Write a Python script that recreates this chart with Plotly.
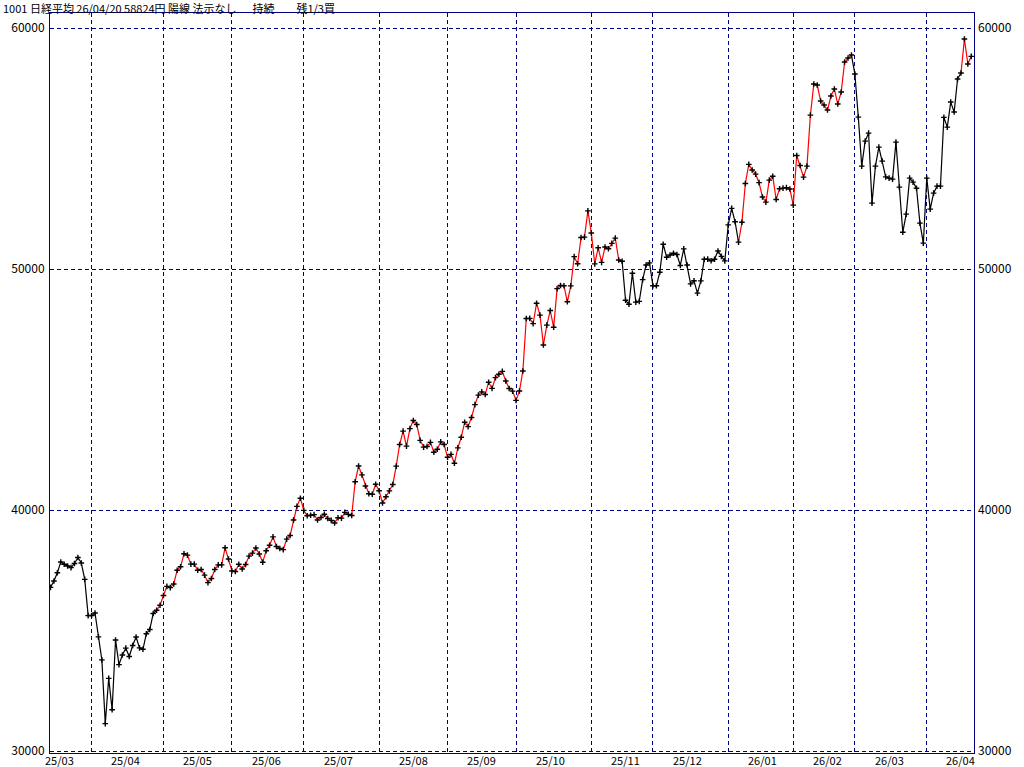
import plotly.graph_objects as go

# ---------------- data ----------------
title_text = "1001 日経平均 26/04/20 58824円 陽線 法示なし\u3000\u00a0\u00a0持続\u3000\u3000残1/3買"

month_labels = ["25/03", "25/04", "25/05", "25/06", "25/07", "25/08", "25/09",
                "25/10", "25/11", "25/12", "26/01", "26/02", "26/03", "26/04"]
# trading days shown in each month
month_days = [12, 21, 20, 21, 22, 20, 20, 22, 18, 22, 19, 18, 21, 14]

close_2503 = [36790, 37053, 37396, 37845, 37751, 37677, 37608, 37780, 38027, 37799, 37120, 35618]
close_2504 = [35624, 35725, 34736, 33781, 31136, 33012, 31714, 34609, 33586, 33982, 34267, 33920,
              34377, 34730, 34280, 34220, 34868, 35039, 35705, 35840, 36045]
close_2505 = [36452, 36831, 36780, 36928, 37503, 37644, 38183, 38128, 37755, 37753, 37498, 37529,
              37299, 36985, 37160, 37532, 37724, 37722, 38432, 37965]
close_2506 = [37470, 37446, 37747, 37554, 37741, 38088, 38211, 38421, 38173, 37834, 38311, 38536,
              38885, 38488, 38403, 38354, 38790, 38942, 39584, 40150, 40487]
close_2507 = [39986, 39762, 39785, 39810, 39587, 39688, 39821, 39646, 39570, 39459, 39678, 39663,
              39901, 39819, 39774, 41171, 41826, 41456, 40998, 40674, 40654, 41069]
close_2508 = [40799, 40290, 40549, 40794, 41059, 41820, 42718, 43274, 42649, 43378, 43714, 43546,
              42888, 42610, 42633, 42807, 42394, 42520, 42828, 42718]
close_2509 = [42188, 42310, 41938, 42580, 43018, 43643, 43459, 43837, 44372, 44768, 44902, 44790,
              45303, 45045, 45493, 45630, 45754, 45354, 45043, 44932]
close_2510 = [44550, 44936, 45769, 47944, 47950, 47734, 48580, 48088, 46847, 47672, 48277, 47582,
              49185, 49316, 49307, 48641, 49299, 50512, 50219, 51307, 51325, 52411]
close_2511 = [51497, 50212, 50883, 50276, 50911, 50842, 51063, 51281, 50376, 50323, 48702, 48537,
              49823, 48625, 48659, 49559, 50167, 50253]
close_2512 = [49303, 49303, 49864, 51028, 50491, 50581, 50655, 50602, 50148, 50836, 50168, 49383,
              49512, 49001, 49507, 50402, 50412, 50344, 50407, 50750, 50526, 50339]
close_2601 = [51832, 52518, 51961, 51117, 51940, 53549, 54341, 54110, 53936, 53583, 52991, 52774,
              53688, 53846, 52885, 53333, 53358, 53376, 53322]
close_2602 = [52650, 54710, 54295, 53812, 54269, 56387, 57675, 57633, 56969, 56803, 56595, 57176,
              57467, 56844, 57342, 58588, 58754, 58879]
close_2603 = [58090, 56304, 54269, 55307, 55639, 52732, 54269, 55058, 54476, 53825, 53771, 53729,
              55266, 53397, 51528, 52276, 53771, 53605, 53350, 51902, 51072]
close_2604 = [53771, 52483, 53148, 53439, 53439, 56290, 55888, 56927, 56512, 57882, 58131, 59543,
              58505, 58824]

# point-index ranges (inclusive) whose connecting line is drawn in red (buy/hold state)
red_runs = [(31, 166), (201, 234), (266, 269)]

y_ticks = [30000, 40000, 50000, 60000]

# ---------------- build ----------------
close = (close_2503 + close_2504 + close_2505 + close_2506 + close_2507 + close_2508 +
         close_2509 + close_2510 + close_2511 + close_2512 + close_2601 + close_2602 +
         close_2603 + close_2604)
n = len(close)
idx = list(range(n))

month_start = []
s = 0
for d in month_days:
    month_start.append(s)
    s += d


def seg_is_red(k):
    return any(a <= k and k + 1 <= b for a, b in red_runs)


RED = "#FF0000"
BLACK = "#000000"
NAVY = "#000080"
FONT = "Noto Sans CJK JP"

fig = go.Figure()

# line segments grouped into runs of same colour
k = 0
while k < n - 1:
    c = seg_is_red(k)
    j = k
    while j + 1 < n - 1 and seg_is_red(j + 1) == c:
        j += 1
    xs = idx[k:j + 2]
    ys = close[k:j + 2]
    fig.add_trace(go.Scatter(x=xs, y=ys, mode="lines",
                             line=dict(color=RED if c else BLACK, width=1.2),
                             hoverinfo="skip", showlegend=False))
    k = j + 1

# cross markers
fig.add_trace(go.Scatter(x=idx, y=close, mode="markers",
                         marker=dict(symbol="cross-thin", size=4, color=BLACK,
                                     line=dict(color=BLACK, width=1.4)),
                         showlegend=False))
# invisible trace for the right-hand axis
fig.add_trace(go.Scatter(x=[idx[0]], y=[close[0]], yaxis="y2", mode="markers",
                         marker=dict(opacity=0), hoverinfo="skip", showlegend=False))

x_range = [-0.15, 269.8]
y_range = [29917, 60623]

fig.update_layout(
    width=1024, height=767,
    margin=dict(l=50, r=50, t=13, b=14),
    paper_bgcolor="white", plot_bgcolor="white",
    font=dict(family=FONT, size=12, color=BLACK),
    showlegend=False,
    xaxis=dict(range=x_range, tickvals=month_start[1:], showticklabels=False, ticks="",
               showgrid=True, gridcolor=NAVY, gridwidth=1, griddash="4px,3px",
               zeroline=False, showline=True, linecolor=NAVY, linewidth=1, mirror=True,
               automargin=False),
    yaxis=dict(range=y_range, tickvals=y_ticks, ticktext=[str(v) for v in y_ticks],
               ticks="", ticklabelstandoff=2,
               showgrid=True, gridcolor=NAVY, gridwidth=1, griddash="4px,3px",
               zeroline=False, showline=True, linecolor=NAVY, linewidth=1, mirror=True,
               automargin=False,
               tickfont=dict(family=FONT, size=12, color=BLACK)),
    yaxis2=dict(range=y_range, overlaying="y", side="right", tickvals=y_ticks,
                ticktext=[str(v) for v in y_ticks], ticks="", ticklabelstandoff=3,
                showgrid=False, zeroline=False, showline=False, automargin=False,
                tickfont=dict(family=FONT, size=12, color=BLACK)),
)

# month labels under the axis (roughly mid-month)
for lab, st in zip(month_labels, month_start):
    pos = st + 10 if st > 0 else 2.5
    fig.add_annotation(x=pos, y=0, xref="x", yref="paper", text=lab, showarrow=False,
                       xanchor="center", yanchor="top", yshift=3,
                       font=dict(family=FONT, size=11, color=BLACK))

# header text
fig.add_annotation(x=(2 - 50) / 924, y=(754 - 0) / 740, xref="paper", yref="paper",
                   text=title_text, showarrow=False, xanchor="left", yanchor="top",
                   borderpad=0, font=dict(family=FONT, size=11, color=BLACK))

fig.write_html("out.html", config={"displayModeBar": False},
               post_script="document.body.style.margin='0px';document.body.style.overflow='hidden';")
